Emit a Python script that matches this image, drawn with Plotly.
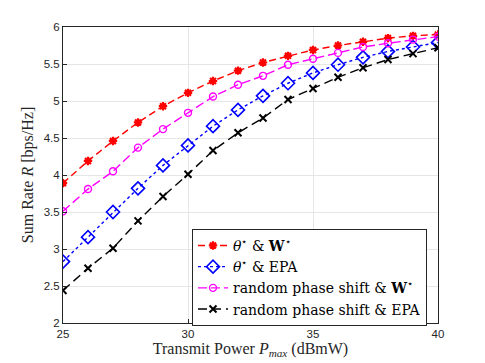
import plotly.graph_objects as go

# transmit power axis (dBmW)
p_max = list(range(25, 41))

# sum rate per scheme
rate_opt_w = [3.89, 4.19, 4.46, 4.71, 4.93, 5.11, 5.27, 5.41, 5.52, 5.61, 5.69, 5.75, 5.80, 5.85, 5.88, 5.90]
rate_opt_epa = [2.83, 3.16, 3.50, 3.82, 4.13, 4.40, 4.66, 4.88, 5.07, 5.24, 5.38, 5.49, 5.59, 5.67, 5.73, 5.79]
rate_rand_w = [3.51, 3.81, 4.05, 4.37, 4.62, 4.84, 5.06, 5.22, 5.34, 5.49, 5.57, 5.65, 5.73, 5.78, 5.83, 5.87]
rate_rand_epa = [2.44, 2.74, 3.01, 3.38, 3.71, 4.01, 4.33, 4.57, 4.77, 5.02, 5.17, 5.32, 5.45, 5.56, 5.64, 5.72]

names = [
    "<i>θ</i><sup>⋆</sup> & <b>W</b><sup>⋆</sup>",
    "<i>θ</i><sup>⋆</sup> & EPA",
    "random phase shift & <b>W</b><sup>⋆</sup>",
    "random phase shift & EPA",
]

styles = [
    dict(color="#ff0000", dash="7px,4px", symbol="asterisk-open", size=7, width=2.2),
    dict(color="#0000ff", dash="dot", symbol="diamond-open", size=10, width=1.6),
    dict(color="#ff00ff", dash="9px,4px", symbol="circle-open", size=7, width=1.4),
    dict(color="#000000", dash="9px,5px", symbol="x-thin-open", size=7, width=2),
]

fig = go.Figure()
for name, ys, st in zip(names, [rate_opt_w, rate_opt_epa, rate_rand_w, rate_rand_epa], styles):
    fig.add_trace(go.Scatter(
        x=p_max, y=ys, name=name, mode="lines+markers",
        line=dict(color=st["color"], dash=st["dash"], width=1.4),
        marker=dict(symbol=st["symbol"], size=st["size"], color=st["color"],
                    line=dict(color=st["color"], width=st["width"])),
    ))

axis_common = dict(
    showgrid=True, gridcolor="#e6e6e6", gridwidth=1,
    showline=True, linecolor="#262626", linewidth=1, mirror=True,
    ticks="inside", ticklen=4, tickcolor="#262626",
    tickfont=dict(family="Liberation Sans", size=11.5, color="#262626"),
    zeroline=False, automargin=False,
)

# the page body keeps its 8px margin, so the figure is sized to the rest
fig.update_layout(
    width=477, height=355,
    margin=dict(l=55, r=47, t=19, b=40),
    paper_bgcolor="white", plot_bgcolor="white",
    xaxis=dict(range=[25, 40], dtick=5,
               title=dict(text="Transmit Power <i>P</i><sub><i>max</i></sub> (dBmW)",
                          font=dict(family="Liberation Serif", size=16, color="#262626"),
                          standoff=0),
               **axis_common),
    yaxis=dict(range=[2, 6], dtick=0.5,
               title=dict(text="Sum Rate <i>R</i> [bps/Hz]",
                          font=dict(family="Liberation Serif", size=16, color="#262626"),
                          standoff=6),
               **axis_common),
    legend=dict(x=0.344, y=0.318, xanchor="left", yanchor="top",
                bgcolor="white", bordercolor="#262626", borderwidth=1,
                font=dict(family="DejaVu Serif", size=14, color="#000000"),
                tracegroupgap=0, itemwidth=30),
    showlegend=True,
)

fig.write_html("out.html")
